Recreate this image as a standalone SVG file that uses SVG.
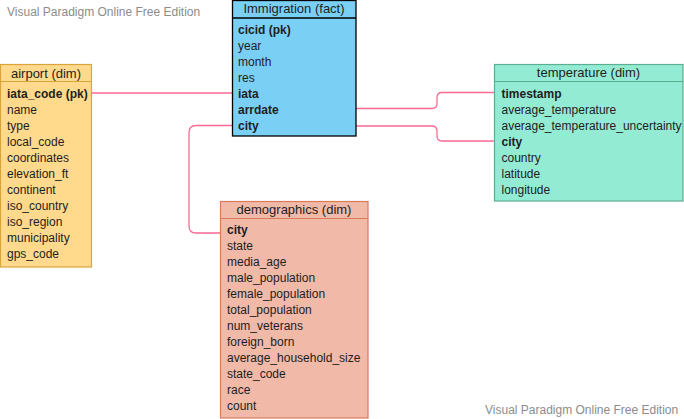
<svg xmlns="http://www.w3.org/2000/svg" width="684" height="419" viewBox="0 0 684 419">
<style>
text{font-family:"Liberation Sans",Arial,sans-serif;font-size:12px;fill:#1e1e1e}
.h{font-size:13px;text-anchor:middle}
.b{font-weight:bold}
.wm{fill:#8c8c8c}
.c{fill:none;stroke:#FA6A94;stroke-width:1.3}
.imm{fill:#7ACFF5;stroke:#000;stroke-width:1.3}
.air{fill:#FFDA8C;stroke:#D9A53B;stroke-width:1.2}
.tmp{fill:#93EBD4;stroke:#5CAE90;stroke-width:1.2}
.dem{fill:#F0B9A8;stroke:#D97B5C;stroke-width:1.2}
</style>
<rect width="684" height="419" fill="#fff"/>
<text class="wm" x="7" y="16">Visual Paradigm Online Free Edition</text>
<text class="wm" x="485" y="414">Visual Paradigm Online Free Edition</text>
<g id="connectors">
<path class="c" d="M92,93 H232"/>
<path class="c" d="M356,108.5 H432 Q437,108.5 437,103.5 V97.5 Q437,92.5 442,92.5 H494"/>
<path class="c" d="M356,126 H432 Q437,126 437,131 V136 Q437,141 442,141 H494"/>
<path class="c" d="M232,125.5 H196 Q189,125.5 189,132.5 V226 Q189,233 196,233 H220"/>
</g>
<g id="immigration">
<rect class="imm" x="232.5" y="0.5" width="123.5" height="135.5"/>
<line class="imm" x1="232.5" y1="18" x2="356" y2="18"/>
<text class="h" x="294" y="12.5">Immigration (fact)</text>
<text class="b" x="238" y="33.5">cicid (pk)</text>
<text x="238" y="49.5">year</text>
<text x="238" y="65.5">month</text>
<text x="238" y="81.5">res</text>
<text class="b" x="238" y="97.5">iata</text>
<text class="b" x="238" y="113.5">arrdate</text>
<text class="b" x="238" y="129.5">city</text>
</g>
<g id="airport">
<rect class="air" x="0.5" y="64.5" width="91" height="202.5"/>
<line class="air" x1="0.5" y1="81.5" x2="91.5" y2="81.5"/>
<text class="h" x="46" y="77.5">airport (dim)</text>
<text class="b" x="7" y="97.5">iata_code (pk)</text>
<text x="7" y="113.5">name</text>
<text x="7" y="129.5">type</text>
<text x="7" y="145.5">local_code</text>
<text x="7" y="161.5">coordinates</text>
<text x="7" y="177.5">elevation_ft</text>
<text x="7" y="193.5">continent</text>
<text x="7" y="209.5">iso_country</text>
<text x="7" y="225.5">iso_region</text>
<text x="7" y="241.5">municipality</text>
<text x="7" y="257.5">gps_code</text>
</g>
<g id="temperature">
<rect class="tmp" x="494.5" y="64.5" width="188.5" height="136.5"/>
<line class="tmp" x1="494.5" y1="81.5" x2="683" y2="81.5"/>
<text class="h" x="588.5" y="77">temperature (dim)</text>
<text class="b" x="501.5" y="97.5">timestamp</text>
<text x="501.5" y="113.5">average_temperature</text>
<text x="501.5" y="129.5">average_temperature_uncertainty</text>
<text class="b" x="501.5" y="145.5">city</text>
<text x="501.5" y="161.5">country</text>
<text x="501.5" y="177.5">latitude</text>
<text x="501.5" y="193.5">longitude</text>
</g>
<g id="demographics">
<rect class="dem" x="220.5" y="201.5" width="147.5" height="216.5"/>
<line class="dem" x1="220.5" y1="218.5" x2="368" y2="218.5"/>
<text class="h" x="294" y="214">demographics (dim)</text>
<text class="b" x="227" y="233.5">city</text>
<text x="227" y="249.5">state</text>
<text x="227" y="265.5">media_age</text>
<text x="227" y="281.5">male_population</text>
<text x="227" y="297.5">female_population</text>
<text x="227" y="313.5">total_population</text>
<text x="227" y="329.5">num_veterans</text>
<text x="227" y="345.5">foreign_born</text>
<text x="227" y="361.5">average_household_size</text>
<text x="227" y="377.5">state_code</text>
<text x="227" y="393.5">race</text>
<text x="227" y="409.5">count</text>
</g>
</svg>
